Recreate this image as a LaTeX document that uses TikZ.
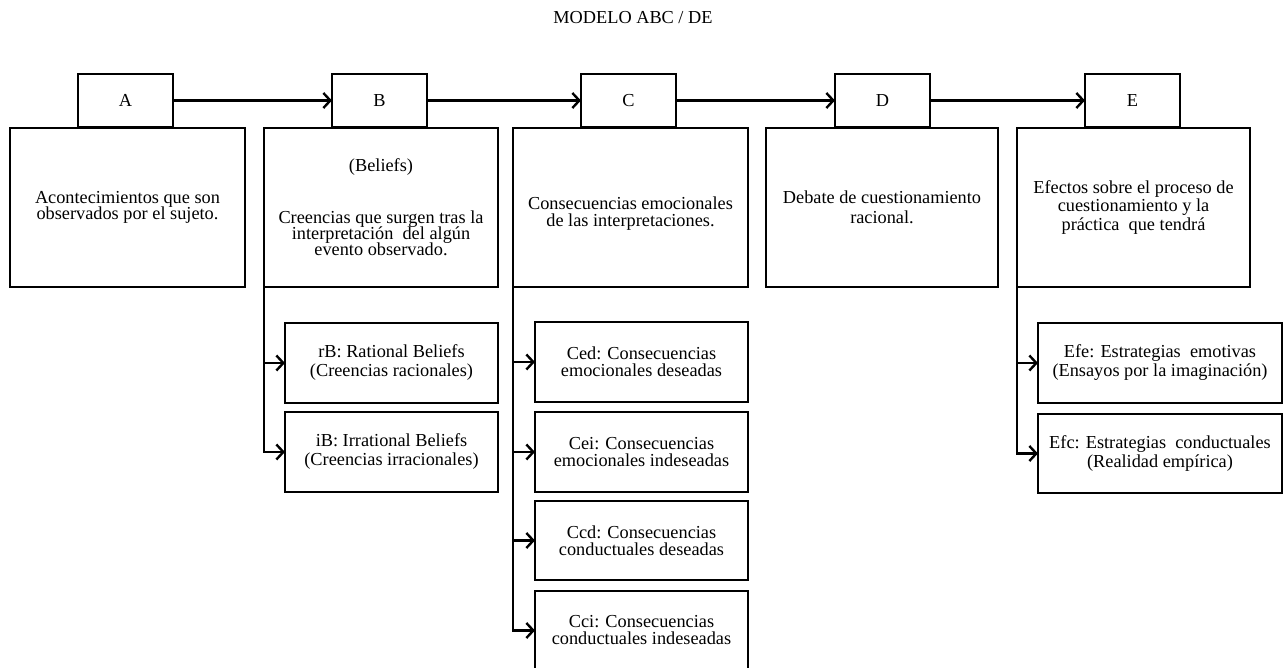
\documentclass[tikz,border=0pt]{standalone}
\usepackage{fontspec}
\setmainfont{Liberation Serif}
\usetikzlibrary{arrows.meta}
\begin{document}
\begin{tikzpicture}[x=1pt,y=-1pt,
  every node/.style={font=\fontsize{18.3}{17}\selectfont},
  box/.style={draw, line width=2.4pt, fill=white, align=center, inner sep=0pt, outer sep=0pt},
  bigbox/.style={box, minimum height=159pt},
  headbox/.style={box, minimum width=95pt, minimum height=53pt},
  subbox/.style={box, minimum height=80pt},
  link/.style={line width=2.4pt, -{Straight Barb[length=7pt,width=15pt]}}
]
\useasboundingbox (0,0) rectangle (1284,668);
\node (title) at (633,18) {MODELO ABC / DE};
% big boxes
\node[bigbox, minimum width=235pt] (A) at (127.5,207.5) {Acontecimientos que son\\[-1pt]observados por el sujeto.};
\node[bigbox, minimum width=234pt] (B) at (381,207.5) {(Beliefs)\\[35pt]Creencias que surgen tras la\\[-1pt]interpretación\ \ del algún\\[-1pt]evento observado.};
\node[bigbox, minimum width=235pt] (C) at (630.5,207.5) {\rule{0pt}{25pt}Consecuencias emocionales\\de las interpretaciones.};
\node[bigbox, minimum width=232pt] (D) at (882,207.5) {Debate de cuestionamiento\\[3pt]racional.};
\node[bigbox, minimum width=233pt] (E) at (1133.5,207.5) {Efectos sobre el proceso de\\[1pt]cuestionamiento y la\\[2pt]práctica\ \ que tendrá};
% header boxes
\node[headbox] (hA) at (125.5,100.5) {A};
\node[headbox] (hB) at (379.5,100.5) {B};
\node[headbox] (hC) at (628.5,100.5) {C};
\node[headbox] (hD) at (882.5,100.5) {D};
\node[headbox] (hE) at (1132.5,100.5) {E};
% sub boxes
\node[subbox, minimum width=213pt] (rB) at (391.5,363) {rB: Rational Beliefs\\[2pt](Creencias racionales)};
\node[subbox, minimum width=213pt] (iB) at (391.5,452) {iB: Irrational Beliefs\\[2pt](Creencias irracionales)};
\node[subbox, minimum width=213pt] (Ced) at (641.5,362) {Ced: Consecuencias\\emocionales deseadas};
\node[subbox, minimum width=213pt] (Cei) at (641.5,452) {Cei: Consecuencias\\emocionales indeseadas};
\node[subbox, minimum width=213pt, minimum height=79pt] (Ccd) at (641.5,540.5) {Ccd: Consecuencias\\conductuales deseadas};
\node[subbox, minimum width=213pt, minimum height=79pt] (Cci) at (641.5,630.5) {Cci: Consecuencias\\conductuales indeseadas};
\node[subbox, minimum width=244pt] (Efe) at (1160,363) {Efe: Estrategias\ \ emotivas\\[2pt](Ensayos por la imaginación)};
\node[subbox, minimum width=244pt, minimum height=79pt] (Efc) at (1160,453.5) {Efc: Estrategias\ \ conductuales\\[2pt](Realidad empírica)};
% connectors
\draw[link] (hA.east) -- (hB.west);
\draw[link] (hB.east) -- (hC.west);
\draw[link] (hC.east) -- (hD.west);
\draw[link] (hD.east) -- (hE.west);
\draw[link] (B.south west) |- (rB.west);
\draw[link] (B.south west) |- (iB.west);
\draw[link] (C.south west) |- (Ced.west);
\draw[link] (C.south west) |- (Cei.west);
\draw[link] (C.south west) |- (Ccd.west);
\draw[link] (C.south west) |- (Cci.west);
\draw[link] (E.south west) |- (Efe.west);
\draw[link] (E.south west) |- (Efc.west);
\end{tikzpicture}
\end{document}
